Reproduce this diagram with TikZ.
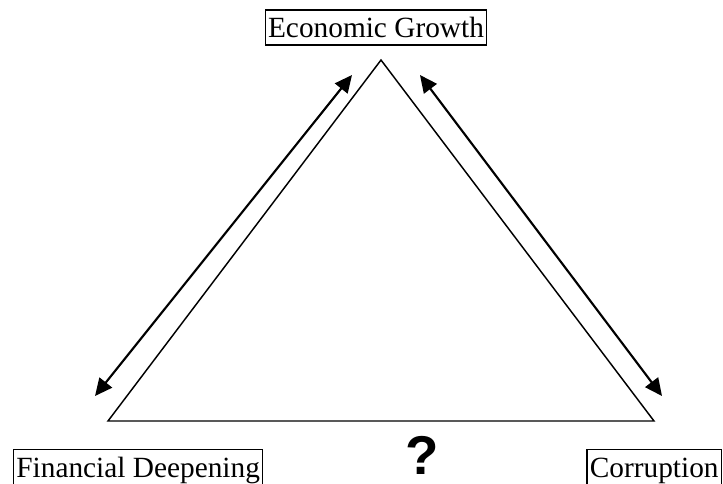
\documentclass[tikz,border=0pt]{standalone}
\usepackage{fontspec}
\setmainfont{Liberation Serif}
\newfontfamily\markfont{Liberation Sans}
\usetikzlibrary{arrows.meta}
\tikzset{
  labelbox/.style={draw, line width=1.1pt, inner xsep=2pt, inner ysep=2pt, text height=18.6pt, text depth=3.6pt, font=\fontsize{22}{24}\selectfont},
  linkarrow/.style={{Triangle[length=13pt,width=12pt]}-{Triangle[length=13pt,width=12pt]}, line width=1.6pt},
}

\begin{document}
\begin{tikzpicture}[x=0.75pt,y=-0.75pt]
  \useasboundingbox (0,0) rectangle (723,483);
  \node[labelbox] (growth) at (376,27.5) {Economic Growth};
  \node[labelbox, anchor=north west] (finance) at (13,449) {Financial Deepening};
  \node[labelbox, anchor=north east] (corrupt) at (722,449) {Corruption};
  \node[font=\markfont\bfseries\fontsize{41}{41}\selectfont, inner sep=2pt] (query) at (422,455) {?};
  \coordinate (apex) at (381,60);
  \coordinate (baseL) at (108,421);
  \coordinate (baseR) at (654,421);
  \coordinate (finTip) at (95,396);
  \coordinate (finTop) at (352,75);
  \coordinate (corTop) at (420,75);
  \coordinate (corTip) at (662,396);
  \draw[line width=1.1pt, line join=miter] (apex) -- (baseL) -- (baseR) -- cycle;
  \draw[linkarrow] (finTip) -- (finTop);
  \draw[linkarrow] (corTop) -- (corTip);
\end{tikzpicture}
\end{document}
